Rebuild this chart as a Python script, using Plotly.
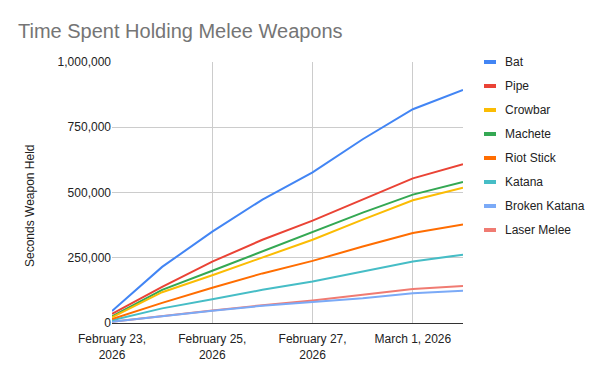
import plotly.graph_objects as go

dates = ["2026-02-23", "2026-02-24", "2026-02-25", "2026-02-26",
         "2026-02-27", "2026-02-28", "2026-03-01", "2026-03-02"]

bat = [46000, 215000, 350000, 473000, 577000, 704000, 819000, 893000]
pipe = [35000, 138000, 235000, 319000, 392000, 473000, 554000, 608000]
crowbar = [22000, 118000, 183000, 250000, 319000, 396000, 470000, 518000]
machete = [25000, 127000, 200000, 274000, 347000, 423000, 492000, 540000]
riot_stick = [15000, 77000, 135000, 190000, 238000, 293000, 345000, 377000]
katana = [10000, 56000, 91000, 127000, 159000, 197000, 236000, 262000]
broken_katana = [5000, 27000, 47000, 66000, 80000, 95000, 114000, 124000]
laser_melee = [5000, 27000, 48000, 68000, 86000, 108000, 130000, 142000]

series_names = ["Bat", "Pipe", "Crowbar", "Machete", "Riot Stick",
                "Katana", "Broken Katana", "Laser Melee"]
series_values = [bat, pipe, crowbar, machete, riot_stick,
                 katana, broken_katana, laser_melee]
colors = ["#4285F4", "#EA4335", "#FBBC04", "#34A853", "#FF6D01",
          "#46BDC6", "#7BAAF7", "#F07B72"]

x_tick_vals = ["2026-02-23", "2026-02-25", "2026-02-27", "2026-03-01"]
x_tick_text = ["February 23,<br>2026", "February 25,<br>2026",
               "February 27,<br>2026", "March 1, 2026"]
y_tick_vals = [0, 250000, 500000, 750000, 1000000]
y_tick_text = ["0", "250,000", "500,000", "750,000", "1,000,000"]

FONT = "Liberation Sans, Arial, sans-serif"

fig = go.Figure()
# draw in reverse so Bat is on top
for name, vals, col in reversed(list(zip(series_names, series_values, colors))):
    fig.add_trace(go.Scatter(x=dates, y=vals, name=name, mode="lines",
                             line=dict(color=col, width=2), showlegend=False))

OFF = 8  # page body margin
W, H = 604 - OFF, 377 - OFF
ml, mt = 112 - OFF, 62 - OFF
mr = W - (463 - OFF)
mb = H - (323 - OFF)
pw = W - ml - mr
ph = H - mt - mb


def px_x(x):
    return (x - OFF - ml) / pw


def px_y(y):
    return 1 - (y - OFF - mt) / ph


annotations = []
shapes = []
for i, (name, col) in enumerate(zip(series_names, colors)):
    yp = px_y(62 + 24 * i)
    shapes.append(dict(type="line", xref="paper", yref="paper",
                       x0=px_x(484), x1=px_x(496), y0=yp, y1=yp,
                       line=dict(color=col, width=4)))
    annotations.append(dict(text=name, xref="paper", yref="paper",
                            x=px_x(503), y=yp, xanchor="left",
                            yanchor="middle", showarrow=False,
                            font=dict(family=FONT, size=12, color="#222222")))

annotations.append(dict(text="Seconds Weapon Held", xref="paper", yref="paper",
                        x=px_x(30), y=px_y(206), xanchor="center",
                        yanchor="middle", textangle=-90, showarrow=False,
                        font=dict(family=FONT, size=12, color="#222222")))

fig.update_layout(
    width=W, height=H,
    margin=dict(l=ml, r=mr, t=mt, b=mb, pad=0),
    paper_bgcolor="white", plot_bgcolor="white",
    title=dict(text="Time Spent Holding Melee Weapons", x=(18 - OFF) / W,
               xanchor="left", y=1 - (31 - OFF) / H, yanchor="middle",
               font=dict(family=FONT, size=20, color="#757575")),
    xaxis=dict(type="date", range=["2026-02-23", "2026-03-02"],
               tickvals=x_tick_vals, ticktext=x_tick_text,
               showgrid=True, gridcolor="#cccccc", gridwidth=1,
               showline=True, linecolor="#333333", linewidth=1,
               ticks="outside", ticklen=5, tickcolor="rgba(0,0,0,0)",
               zeroline=False,
               tickfont=dict(family=FONT, size=12, color="#222222")),
    yaxis=dict(range=[0, 1000000], tickvals=y_tick_vals, ticktext=y_tick_text,
               showgrid=True, gridcolor="#cccccc", gridwidth=1,
               showline=False, zeroline=False, ticks="",
               tickfont=dict(family=FONT, size=12, color="#222222")),
    annotations=annotations, shapes=shapes,
)

fig.write_html("out.html")
